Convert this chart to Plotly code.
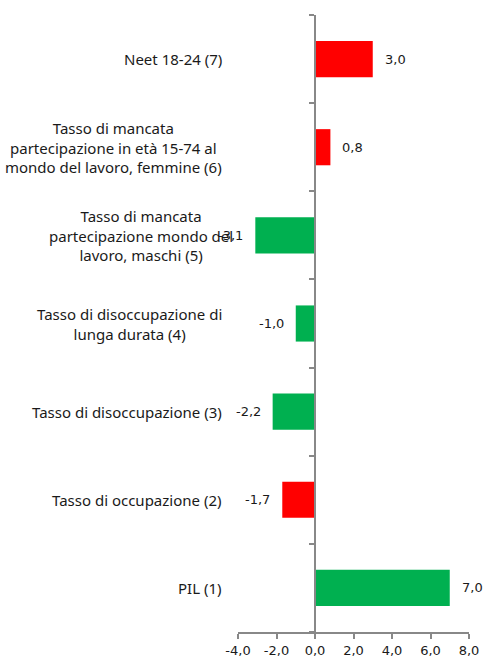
import plotly.graph_objects as go

categories = [
    "PIL (1)",
    "Tasso di occupazione (2)",
    "Tasso di disoccupazione (3)",
    "Tasso di disoccupazione di<br>lunga durata (4)",
    "Tasso di mancata<br>partecipazione mondo del<br>lavoro, maschi (5)",
    "Tasso di mancata<br>partecipazione in età 15-74 al<br>mondo del lavoro, femmine (6)",
    "Neet 18-24 (7)",
]
values = [7.0, -1.7, -2.2, -1.0, -3.1, 0.8, 3.0]
bar_colors = ["#00B050", "#FF0000", "#00B050", "#00B050", "#00B050", "#FF0000", "#FF0000"]
x_tickvals = [-4, -2, 0, 2, 4, 6, 8]
x_ticktext = ["-4,0", "-2,0", "0,0", "2,0", "4,0", "6,0", "8,0"]

def fmt(v):
    return f"{v:.1f}".replace(".", ",")

fig = go.Figure(go.Bar(
    x=values, y=categories, orientation="h",
    marker=dict(color=bar_colors, line=dict(width=0)),
    width=0.41, hoverinfo="skip",
))

annotations = []
for c, v in zip(categories, values):
    annotations.append(dict(
        x=v, y=c, xref="x", yref="y", text=fmt(v), showarrow=False,
        xanchor="left" if v >= 0 else "right", xshift=10 if v >= 0 else -10,
        font=dict(family="DejaVu Sans", size=13, color="#1a1a1a"),
    ))
    annotations.append(dict(
        x=0, y=c, xref="paper", yref="y", text=c, showarrow=False,
        xanchor="right", align="center", xshift=-14 + (11 if "maschi" in c else 0),
        font=dict(family="Noto Sans", size=15, color="#1a1a1a"),
    ))

fig.update_layout(
    width=484, height=662,
    margin=dict(l=238, r=15, t=15, b=30, autoexpand=False),
    paper_bgcolor="white", plot_bgcolor="white",
    showlegend=False,
    annotations=annotations,
    xaxis=dict(
        range=[-4, 8], tickvals=x_tickvals, ticktext=x_ticktext,
        showgrid=False, zeroline=False, automargin=False,
        showline=True, linecolor="#888888", linewidth=2,
        ticks="outside", ticklen=5, tickcolor="#888888", tickwidth=1.5,
        tickfont=dict(family="DejaVu Sans", size=13, color="#1a1a1a"),
    ),
    yaxis=dict(
        type="category", categoryorder="array", categoryarray=categories,
        range=[-0.5, 6.5], automargin=False,
        showticklabels=False, showgrid=False, zeroline=False,
        anchor="free", position=1/3,
        showline=True, linecolor="#888888", linewidth=2,
        ticks="outside", tickson="boundaries", ticklen=5, tickcolor="#888888", tickwidth=1.5,
    ),
)

fig.write_html(
    "out.html",
    config={"displayModeBar": False},
    post_script="document.body.style.margin='0';document.body.style.overflow='hidden';",
)
